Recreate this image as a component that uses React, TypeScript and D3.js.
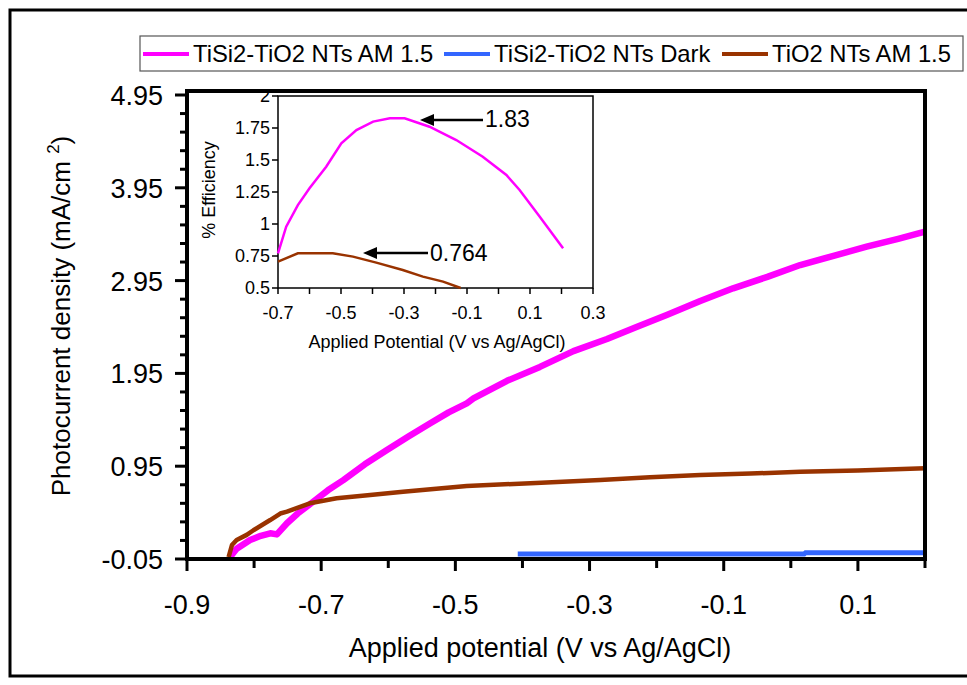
import React from 'react';
import * as d3 from 'd3';

// main plot: photocurrent vs applied potential
const magentaX = [-0.836, -0.826, -0.806, -0.79, -0.776, -0.766, -0.751, -0.735, -0.712, -0.69, -0.667, -0.635, -0.602, -0.57, -0.538, -0.51, -0.483, -0.473, -0.423, -0.374, -0.324, -0.274, -0.23, -0.185, -0.135, -0.086, -0.035, 0.014, 0.065, 0.113, 0.16, 0.2];
const magentaY = [-0.03, 0.06, 0.155, 0.2, 0.227, 0.215, 0.335, 0.44, 0.567, 0.69, 0.8, 0.97, 1.125, 1.27, 1.41, 1.53, 1.628, 1.68, 1.87, 2.02, 2.19, 2.32, 2.45, 2.58, 2.73, 2.867, 2.99, 3.118, 3.22, 3.315, 3.4, 3.477];

const brownX = [-0.838, -0.833, -0.826, -0.811, -0.801, -0.776, -0.761, -0.751, -0.717, -0.677, -0.627, -0.578, -0.483, -0.38, -0.284, -0.21, -0.135, -0.06, 0.014, 0.1, 0.2];
const brownY = [-0.03, 0.1, 0.155, 0.21, 0.26, 0.37, 0.44, 0.46, 0.55, 0.604, 0.64, 0.675, 0.737, 0.77, 0.8, 0.83, 0.855, 0.87, 0.89, 0.905, 0.927];

const blueX = [-0.407, 0.02, 0.022, 0.2];
const blueY = [0.005, 0.005, 0.018, 0.018];

const xTicks = [-0.9, -0.8, -0.7, -0.6, -0.5, -0.4, -0.3, -0.2, -0.1, 0, 0.1, 0.2];
const xLabels = ['-0.9', '-0.7', '-0.5', '-0.3', '-0.1', '0.1'];
const yLabels = ['-0.05', '0.95', '1.95', '2.95', '3.95', '4.95'];

// inset: efficiency
const effX = [-0.7, -0.674, -0.637, -0.6, -0.547, -0.499, -0.451, -0.398, -0.345, -0.298, -0.219, -0.134, -0.05, 0.025, 0.067, 0.131, 0.205];
const effPink = [0.771, 0.979, 1.148, 1.279, 1.448, 1.63, 1.734, 1.8, 1.826, 1.826, 1.76, 1.656, 1.526, 1.383, 1.266, 1.057, 0.81];
const effBrownX = [-0.7, -0.637, -0.526, -0.462, -0.388, -0.304, -0.24, -0.176, -0.12];
const effBrown = [0.706, 0.771, 0.771, 0.745, 0.698, 0.641, 0.589, 0.55, 0.5];
const insetXLabels = ['-0.7', '-0.5', '-0.3', '-0.1', '0.1', '0.3'];
const insetYLabels = ['0.5', '0.75', '1', '1.25', '1.5', '1.75', '2'];

const legendItems = [
  { label: 'TiSi2-TiO2 NTs AM 1.5', color: '#ff00ff' },
  { label: 'TiSi2-TiO2 NTs Dark', color: '#3366ff' },
  { label: 'TiO2 NTs AM 1.5', color: '#993300' },
];
const legendX = [143, 444, 722];

const font = 'Liberation Sans, Arial, sans-serif';

const App = () => {
  const W = 967, H = 685;
  const x = d3.scaleLinear().domain([-0.9, 0.2]).range([187, 925]);
  const y = d3.scaleLinear().domain([-0.05, 4.95]).range([559, 95]);
  const yTicks = d3.range(26).map(i => -0.05 + i * 0.2);

  const ix = d3.scaleLinear().domain([-0.7, 0.3]).range([278, 593]);
  const iy = d3.scaleLinear().domain([0.5, 2]).range([288, 96]);
  const insetMinor = d3.range(11).map(i => -0.7 + i * 0.1);

  const line = d3.line<[number, number]>().x(d => x(d[0])).y(d => y(d[1]));
  const iline = d3.line<[number, number]>().x(d => ix(d[0])).y(d => iy(d[1]));
  const zip = (a: number[], b: number[]) => a.map((v, i) => [v, b[i]] as [number, number]);

  return (
    <svg width={W} height={H} style={{ position: 'absolute', left: 0, top: 0 }} fontFamily={font}>
      <rect x={0} y={0} width={W} height={H} fill="white" />
      <rect x={10} y={10} width={990} height={666} fill="none" stroke="black" strokeWidth={3} />

      {/* legend */}
      <rect x={140} y={36} width={823} height={35} fill="white" stroke="#555" strokeWidth={1.2} />
      {legendItems.map((d, i) => (
        <g key={i}>
          <line x1={legendX[i]} x2={legendX[i] + 46} y1={54} y2={54} stroke={d.color} strokeWidth={4} />
          <text x={legendX[i] + 50} y={62} fontSize={23.8}>{d.label}</text>
        </g>
      ))}

      {/* main curves */}
      <path d={line(zip(blueX, blueY)) || ''} fill="none" stroke="#3366ff" strokeWidth={5} />
      <path d={line(zip(magentaX, magentaY)) || ''} fill="none" stroke="#ff00ff" strokeWidth={6.5} strokeLinejoin="round" />
      <path d={line(zip(brownX, brownY)) || ''} fill="none" stroke="#993300" strokeWidth={4.5} strokeLinejoin="round" />

      {/* main frame */}
      <rect x={187} y={91} width={738} height={468} fill="none" stroke="black" strokeWidth={4} />

      {xTicks.map((t, i) => {
        const major = xLabels.some(l => Math.abs(+l - t) < 1e-6);
        return <line key={i} x1={x(t)} x2={x(t)} y1={559} y2={major ? 571 : 568} stroke="black" strokeWidth={3} />;
      })}
      {xLabels.map((t, i) => (
        <text key={i} x={x(+t)} y={614} fontSize={27} textAnchor="middle">{t}</text>
      ))}
      {yTicks.map((t, i) => {
        const major = i % 5 === 0;
        return <line key={i} x1={major ? 175 : 180} x2={187} y1={y(t)} y2={y(t)} stroke="black" strokeWidth={3} />;
      })}
      {yLabels.map((t, i) => (
        <text key={i} x={163} y={y(+t) + 10} fontSize={27} textAnchor="end">{t}</text>
      ))}

      <text x={540} y={657} fontSize={27} textAnchor="middle">Applied potential (V vs Ag/AgCl)</text>
      <text transform="translate(70,316) rotate(-90)" fontSize={26} textAnchor="middle">
        Photocurrent density (mA/cm <tspan dy={-11} fontSize={17}>2</tspan><tspan dy={11}>)</tspan>
      </text>

      {/* inset */}
      <rect x={278} y={96} width={315} height={192} fill="white" stroke="black" strokeWidth={1.5} />
      <path d={iline(zip(effX, effPink)) || ''} fill="none" stroke="#ff00ff" strokeWidth={2.5} />
      <path d={iline(zip(effBrownX, effBrown)) || ''} fill="none" stroke="#993300" strokeWidth={2.5} />
      {insetMinor.map((t, i) => (
        <line key={i} x1={ix(t)} x2={ix(t)} y1={288} y2={294} stroke="black" strokeWidth={1.5} />
      ))}
      {insetXLabels.map((t, i) => (
        <text key={i} x={ix(+t)} y={319} fontSize={18} textAnchor="middle">{t}</text>
      ))}
      {insetYLabels.map((t, i) => (
        <g key={i}>
          <line x1={272} x2={278} y1={iy(+t)} y2={iy(+t)} stroke="black" strokeWidth={1.5} />
          <text x={270} y={iy(+t) + 6} fontSize={18} textAnchor="end">{t}</text>
        </g>
      ))}
      <text x={437} y={348} fontSize={18} textAnchor="middle">Applied Potential (V vs Ag/AgCl)</text>
      <text transform="translate(215,190) rotate(-90)" fontSize={18} textAnchor="middle">% Efficiency</text>

      {/* annotations */}
      <line x1={483} x2={430} y1={120} y2={120} stroke="black" strokeWidth={2.5} />
      <path d="M420,120 L434,114 L434,126 Z" fill="black" />
      <text x={485} y={127} fontSize={23}>1.83</text>
      <line x1={428} x2={373} y1={253} y2={253} stroke="black" strokeWidth={2.5} />
      <path d="M363,253 L377,247 L377,259 Z" fill="black" />
      <text x={430} y={261} fontSize={23}>0.764</text>
    </svg>
  );
};

export default App;
